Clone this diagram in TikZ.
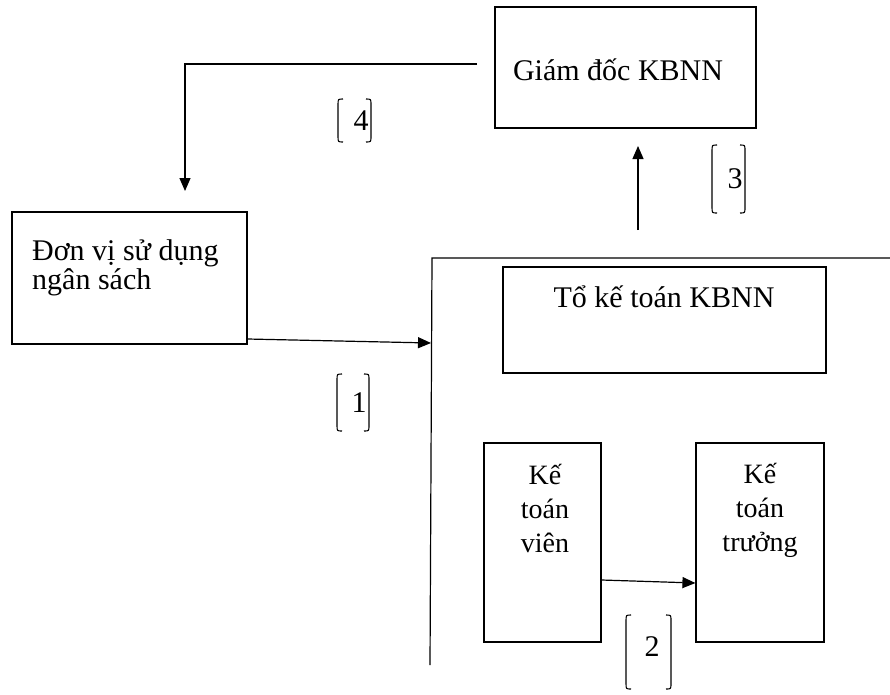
\documentclass[tikz,border=0pt]{standalone}
\usepackage{fontspec}
\setmainfont{Liberation Serif}
\usetikzlibrary{arrows.meta}
\begin{document}
\begin{tikzpicture}[x=1pt,y=-1pt,
  box/.style={draw,line width=1.2pt,inner sep=0pt},
  txt/.style={inner sep=0pt,font=\fontsize{30}{34}\selectfont},
  stxt/.style={inner sep=0pt,font=\fontsize{28}{34}\selectfont},
  num/.style={inner sep=0pt,font=\fontsize{30}{37}\selectfont},
  conn/.style={line width=1.2pt},
  arr/.style={line width=1.2pt,-{Triangle[length=13pt,width=11pt]}},
  brk/.style={line width=1.1pt}]
\useasboundingbox (0,0) rectangle (890,694);
% boxes
\node[box,minimum width=261pt,minimum height=121pt] (gd) at (625.5,67.5) {};
\node[txt,anchor=base] (gdt) at (618,80) {Giám đốc KBNN};
\node[box,minimum width=235pt,minimum height=132pt] (dv) at (129.5,278) {};
\node[txt,anchor=base west,align=left,font=\fontsize{30}{29.5}\selectfont] (dvt) at (32,289.5) {Đơn vị sử dụng\\ngân sách};
\node[box,minimum width=323pt,minimum height=106pt] (tkt) at (664.5,320) {};
\node[txt,anchor=base] (tktt) at (664,307) {Tổ kế toán KBNN};
\node[box,minimum width=117pt,minimum height=199pt] (ktv) at (542.5,542.5) {};
\node[stxt,anchor=base,align=center] (ktvt) at (545,552) {Kế\\toán\\viên};
\node[box,minimum width=128pt,minimum height=199pt] (ktt) at (760,542.5) {};
\node[stxt,anchor=base,align=center] (kttt) at (760,551) {Kế\\toán\\trưởng};
% L-shaped frame
\coordinate (ltop) at (432,258);
\coordinate (lright) at (890,258);
\coordinate (lbot) at (430,665);
\draw[conn] (lright) -- (ltop) -- (lbot);
% arrow 4
\coordinate (a4s) at (477,64);
\coordinate (a4e) at (185,191);
\draw[arr] (a4s) -| (a4e);
% arrow 1
\coordinate (a1e) at (431,343);
\draw[arr] (dv.east |- 0,339) -- (a1e);
% arrow 3
\coordinate (a3s) at (638,230);
\coordinate (a3e) at (638,146);
\draw[arr] (a3s) -- (a3e);
% arrow 2
\draw[arr] (ktv.east |- 0,580) -- (ktt.west |- 0,583);
% bracket labels
\newcommand\brlabel[4]{% left x, top y, right x, bottom y
  \draw[brk] (#1+5,#2) .. controls (#1,#2) .. (#1,#2+6) -- (#1,#4-6) .. controls (#1,#4) .. (#1+5,#4);
  \draw[brk] (#3-5,#2) .. controls (#3,#2) .. (#3,#2+6) -- (#3,#4-6) .. controls (#3,#4) .. (#3-5,#4);
}
\brlabel{338}{99}{371}{142}
\node[num] (n4) at (361,121) {4};
\brlabel{337}{374}{369}{431}
\node[num] (n1) at (359,403) {1};
\brlabel{712}{145}{745}{213}
\node[num] (n3) at (735,179) {3};
\brlabel{626}{615}{671}{689}
\node[num] (n2) at (652,647) {2};
\end{tikzpicture}
\end{document}
